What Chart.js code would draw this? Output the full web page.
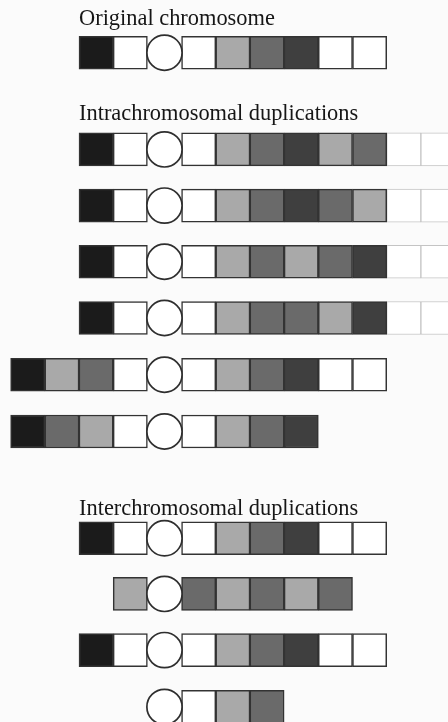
<!DOCTYPE html>
<html>
<head>
<meta charset="utf-8">
<script src="https://cdn.jsdelivr.net/npm/chart.js@4/dist/chart.umd.min.js"></script>
<style>
  html, body { margin: 0; padding: 0; background: #fbfbfb; }
  #wrap { width: 448px; height: 722px; position: relative; }
</style>
</head>
<body>
<div id="wrap"><canvas id="chromChart"></canvas></div>
<script>
// Cell codes: K black, W white, C centromere, L light grey, M mid grey,
// D dark grey, F faded (partly visible) white segment
const rowCells = [
  "KWCWLMDWW",     // original chromosome
  "KWCWLMDLMFF",   // intrachromosomal duplications
  "KWCWLMDMLFF",
  "KWCWLMLMDFF",
  "KWCWLMMLDFF",
  "KLMWCWLMDWW",
  "KMLWCWLMD",
  "KWCWLMDWW",     // interchromosomal duplications
  "LCMLMLM",
  "KWCWLMDWW",
  "CWLM"
];
// first slot of each row (slot 0 = first cell of the original chromosome)
const rowStart = [0, 0, 0, 0, 0, -2, -2, 0, 1, 0, 2];
// vertical position of each row (in row units, top to bottom)
const rowPos = [0, 1.72, 2.72, 3.72, 4.72, 5.73, 6.74, 8.64, 9.63, 10.63, 11.64];

const titles = ["Original chromosome", "Intrachromosomal duplications", "Interchromosomal duplications"];
const titlePos = [-0.49, 1.2, 8.23];

const fills = {
  K: "#1b1b1b",
  L: "#a9a9a9",
  M: "#6a6a6a",
  D: "#3f3f3f",
  W: "#ffffff",
  F: "#ffffff"
};

// Build one bar dataset per fill colour, plus a scatter set for centromeres
const barSets = {};
Object.keys(fills).forEach((code) => {
  const faded = code === "F";
  barSets[code] = {
    type: "bar",
    label: code,
    data: [],
    backgroundColor: fills[code],
    borderColor: faded ? "#c4c4c4" : "#333333",
    borderWidth: faded ? 1 : 1.5,
    borderSkipped: false,
    barThickness: 33,
    grouped: false,
    order: faded ? 2 : 1
  };
});

const centromeres = {
  type: "scatter",
  label: "centromere",
  data: [],
  pointStyle: "circle",
  pointRadius: 17.6,
  pointBackgroundColor: "#ffffff",
  pointBorderColor: "#2e2e2e",
  pointBorderWidth: 1.7,
  order: 0
};

rowCells.forEach((cells, r) => {
  [...cells].forEach((code, i) => {
    const s = rowStart[r] + i;
    if (code === "C") {
      centromeres.data.push({ x: s + 0.5, y: rowPos[r] });
    } else {
      barSets[code].data.push({ x: [s, s + 1], y: rowPos[r] });
    }
  });
});

// Section headings, placed through the chart scales
const titlePlugin = {
  id: "sectionTitles",
  afterDatasetsDraw(chart) {
    const { ctx, scales: { x, y } } = chart;
    ctx.save();
    ctx.font = '22.4px "Liberation Serif", "Times New Roman", serif';
    ctx.fillStyle = "#161616";
    ctx.textBaseline = "alphabetic";
    titles.forEach((t, i) => {
      ctx.fillText(t, x.getPixelForValue(0), y.getPixelForValue(titlePos[i]));
    });
    ctx.restore();
  }
};

const ctx = document.getElementById("chromChart").getContext("2d");
new Chart(ctx, {
  type: "bar",
  data: {
    datasets: [...Object.values(barSets), centromeres]
  },
  options: {
    indexAxis: "y",
    responsive: true,
    maintainAspectRatio: false,
    animation: false,
    events: [],
    layout: { padding: 0, autoPadding: false },
    plugins: {
      legend: { display: false },
      tooltip: { enabled: false }
    },
    scales: {
      x: { type: "linear", display: false, offset: false, min: -2.311, max: 10.793 },
      y: { type: "linear", display: false, offset: false, reverse: true, min: -0.938, max: 11.909 }
    }
  },
  plugins: [titlePlugin]
});
</script>
</body>
</html>
